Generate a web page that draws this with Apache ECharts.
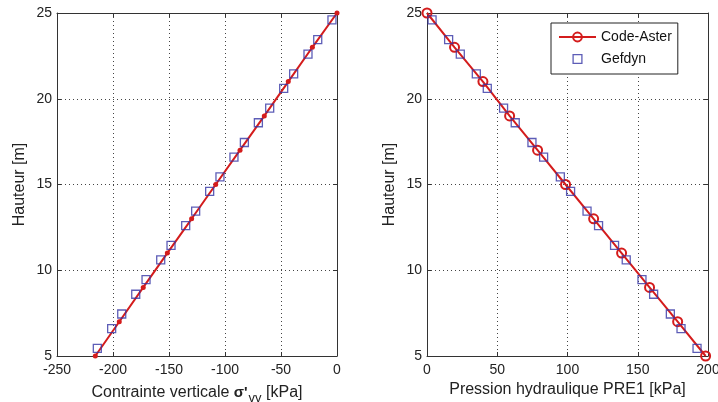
<!DOCTYPE html>
<html><head><meta charset="utf-8">
<script src="https://cdn.jsdelivr.net/npm/echarts@6/dist/echarts.min.js"></script>
<style>html,body{margin:0;padding:0;background:#fff}#c{width:718px;height:402px}</style>
</head><body><div id="c"></div>
<script>
// ---- data ----
const heightsAster = [25, 23, 21, 19, 17, 15, 13, 11, 9, 7, 5];
const sigmaAster = [0, -22, -43.5, -64.9, -86.6, -108.3, -129.8, -151.5, -173, -194.4, -215.8];
const presAster = [0, 19.6, 39.8, 58.8, 78.7, 98.6, 118.6, 138.5, 158.4, 178.4, 198.3];
const heightsGef = [24.6, 23.45, 22.6, 21.45, 20.6, 19.45, 18.6, 17.45, 16.6, 15.45, 14.6, 13.45, 12.6, 11.45, 10.6, 9.45, 8.6, 7.45, 6.6, 5.45];
const sigmaGef = [-4.5, -17.2, -25.9, -38.7, -47.6, -60.1, -70.2, -82.7, -92, -104.5, -113.7, -126.2, -135.1, -148.2, -157.4, -170.5, -179.7, -192.2, -201.2, -214];
const presGef = [3.6, 15.4, 23.7, 35.1, 42.9, 54.5, 62.8, 74.7, 83.0, 94.9, 102.2, 113.9, 122.1, 133.5, 141.8, 153.0, 161.3, 173.2, 180.8, 192.2];
const leftXTicks = [-250, -200, -150, -100, -50, 0];
const rightXTicks = [0, 50, 100, 150, 200];
const yTicks = [5, 10, 15, 20, 25];
const seriesNames = ['Code-Aster', 'Gefdyn'];
const xNameLeft = "Contrainte verticale {s|σ'}{sub|vv} [kPa]";
const xNameRight = 'Pression hydraulique PRE1 [kPa]';
const yName = 'Hauteur [m]';

// ---- styling ----
const RED = '#d41c1c', BLUE = '#3535a5';
const FONT = 'Liberation Sans';
const pair = (xs, ys) => xs.map((x, i) => [x, ys[i]]);
const gridLine = {show: true, lineStyle: {color: '#444', type: [1, 3], width: 1}};
function xAxis(grid, ticks, name) {
  const base = {gridIndex: grid, type: 'value', min: ticks[0], max: ticks[ticks.length - 1],
    interval: ticks[1] - ticks[0]};
  return [
    Object.assign({}, base, {position: 'bottom',
      axisLine: {show: true, onZero: false, lineStyle: {color: '#333', width: 1}},
      axisTick: {show: true, inside: true, length: 4, lineStyle: {color: '#333'}},
      axisLabel: {color: '#222', fontFamily: FONT, fontSize: 14, margin: 7},
      splitLine: gridLine,
      name: name, nameLocation: 'middle', nameGap: 25,
      nameTextStyle: {color: '#222', fontFamily: FONT, fontSize: 16,
        rich: {s: {fontFamily: FONT, fontSize: 15, fontWeight: 'bold', color: '#222'},
               sub: {fontFamily: FONT, fontSize: 13, color: '#222', padding: [11, 0, 0, 1]}}}}),
    Object.assign({}, base, {position: 'top',
      axisLine: {show: true, onZero: false, lineStyle: {color: '#333', width: 1}},
      axisTick: {show: true, inside: true, length: 4, lineStyle: {color: '#333'}},
      axisLabel: {show: false}, splitLine: {show: false}})
  ];
}
function yAxis(grid) {
  const base = {gridIndex: grid, type: 'value', min: yTicks[0], max: yTicks[yTicks.length - 1],
    interval: yTicks[1] - yTicks[0]};
  return [
    Object.assign({}, base, {position: 'left',
      axisLine: {show: true, onZero: false, lineStyle: {color: '#333', width: 1}},
      axisTick: {show: true, inside: true, length: 4, lineStyle: {color: '#333'}},
      axisLabel: {color: '#222', fontFamily: FONT, fontSize: 14, margin: 5},
      splitLine: gridLine,
      name: yName, nameLocation: 'middle', nameGap: 29, nameRotate: 90,
      nameTextStyle: {color: '#222', fontFamily: FONT, fontSize: 16}}),
    Object.assign({}, base, {position: 'right',
      axisLine: {show: true, onZero: false, lineStyle: {color: '#333', width: 1}},
      axisTick: {show: true, inside: true, length: 4, lineStyle: {color: '#333'}},
      axisLabel: {show: false}, splitLine: {show: false}})
  ];
}
const chart = echarts.init(document.getElementById('c'), null, {renderer: 'canvas'});
chart.setOption({
  animation: false,
  backgroundColor: '#fff',
  grid: [
    {left: 57, right: 381, top: 13, bottom: 46, containLabel: false, outerBoundsMode: 'none'},
    {left: 427, right: 10, top: 13, bottom: 46, containLabel: false, outerBoundsMode: 'none'}
  ],
  xAxis: [...xAxis(0, leftXTicks, xNameLeft), ...xAxis(1, rightXTicks, xNameRight)],
  yAxis: [...yAxis(0), ...yAxis(1)],
  legend: {
    data: [
      {name: seriesNames[0]},
      {name: seriesNames[1], icon: 'path://M1,1L9,1L9,9L1,9Z M0,0L0,0 M10,10L10,10',
       itemStyle: {color: 'rgba(0,0,0,0)', borderColor: BLUE, borderWidth: 1.3}}
    ],
    symbolKeepAspect: true,
    left: 551, top: 23, orient: 'vertical',
    padding: [7, 6, 8, 7], itemGap: 8, itemWidth: 37, itemHeight: 11,
    borderColor: '#222', borderWidth: 1, backgroundColor: '#fff',
    textStyle: {fontFamily: FONT, fontSize: 14, color: '#111'}
  },
  series: [
    {name: 'left-aster', type: 'line', xAxisIndex: 0, yAxisIndex: 0, data: pair(sigmaAster, heightsAster),
     symbol: 'circle', symbolSize: 5, clip: false, z: 3,
     lineStyle: {color: RED, width: 2}, itemStyle: {color: RED}},
    {name: 'left-gef', type: 'scatter', xAxisIndex: 0, yAxisIndex: 0, data: pair(sigmaGef, heightsGef),
     symbol: 'rect', symbolSize: 8, clip: false, z: 4,
     itemStyle: {color: 'rgba(0,0,0,0)', borderColor: BLUE, borderWidth: 1.3}},
    {name: seriesNames[0], type: 'line', xAxisIndex: 2, yAxisIndex: 2, data: pair(presAster, heightsAster),
     symbol: 'circle', symbolSize: 9, clip: false, z: 3,
     lineStyle: {color: RED, width: 2},
     itemStyle: {color: 'rgba(0,0,0,0)', borderColor: RED, borderWidth: 2}},
    {name: seriesNames[1], type: 'scatter', xAxisIndex: 2, yAxisIndex: 2, data: pair(presGef, heightsGef),
     symbol: 'rect', symbolSize: 8, clip: false, z: 4,
     itemStyle: {color: 'rgba(0,0,0,0)', borderColor: BLUE, borderWidth: 1.3}}
  ]
});
</script></body></html>
